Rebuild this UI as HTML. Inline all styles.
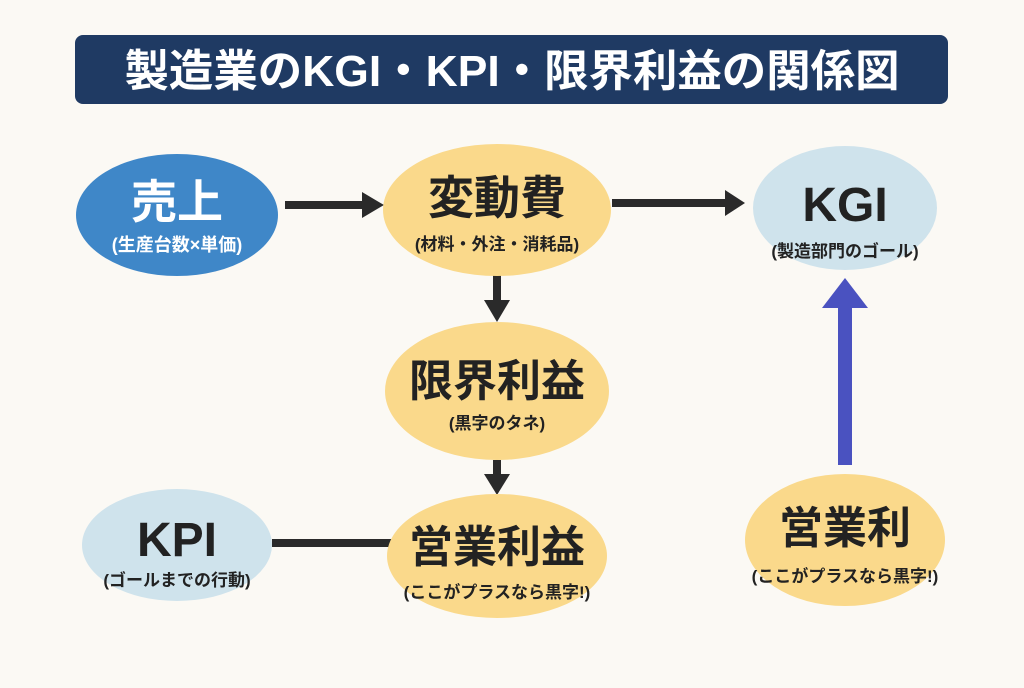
<!DOCTYPE html>
<html><head><meta charset="utf-8"><style>
body{margin:0;width:1024px;height:683px;background:#fbf9f4;overflow:hidden;font-family:"Liberation Sans","Noto Sans CJK JP",sans-serif;}
</style></head><body>
<svg width="1024" height="683" viewBox="0 0 1024 683" xmlns="http://www.w3.org/2000/svg" font-family="'Liberation Sans','Noto Sans CJK JP',sans-serif" font-weight="bold">
<rect x="75" y="35" width="873" height="69" rx="8" fill="#1f3a63"/>
<text x="512" y="86" text-anchor="middle" font-size="44" fill="#fff" textLength="775" lengthAdjust="spacingAndGlyphs">製造業のKGI・KPI・限界利益の関係図</text>
<g fill="#2a2a2a" stroke="none">
<rect x="285" y="201" width="82" height="8"/><polygon points="362,192 384,205 362,218"/>
<rect x="612" y="199" width="118" height="8"/><polygon points="725,190 745,203 725,216"/>
<rect x="493" y="275" width="8" height="30"/><polygon points="484,300 510,300 497,322"/>
<rect x="493" y="460" width="8" height="18"/><polygon points="484,474 510,474 497,495"/>
<rect x="272" y="539" width="120" height="8"/>
</g>
<rect x="838" y="305" width="14" height="160" fill="#4a52c0"/><polygon points="822,308 868,308 845,278" fill="#4a52c0"/>
<ellipse cx="177" cy="215" rx="101" ry="61" fill="#3f87c8"/>
<ellipse cx="497" cy="210" rx="114" ry="66" fill="#fad98b"/>
<ellipse cx="845" cy="208" rx="92" ry="62" fill="#cfe3ec"/>
<ellipse cx="497" cy="391" rx="112" ry="69" fill="#fad98b"/>
<ellipse cx="497" cy="556" rx="110" ry="62" fill="#fad98b"/>
<ellipse cx="177" cy="545" rx="95" ry="56" fill="#cfe3ec"/>
<ellipse cx="845" cy="540" rx="100" ry="66" fill="#fad98b"/>
<g text-anchor="middle" fill="#222">
<text x="177" y="218" font-size="46" fill="#fff">売上</text>
<text x="177" y="251" font-size="18" fill="#fff">(生産台数×単価)</text>
<text x="497" y="214" font-size="46">変動費</text>
<text x="497" y="250" font-size="17">(材料・外注・消耗品)</text>
<text x="845" y="221" font-size="48">KGI</text>
<text x="845" y="257" font-size="17">(製造部門のゴール)</text>
<text x="497" y="396" font-size="44">限界利益</text>
<text x="497" y="429" font-size="17">(黒字のタネ)</text>
<text x="497" y="562" font-size="44">営業利益</text>
<text x="497" y="598" font-size="17">(ここがプラスなら黒字!)</text>
<text x="177" y="556" font-size="48">KPI</text>
<text x="177" y="586" font-size="17">(ゴールまでの行動)</text>
<text x="845" y="543" font-size="44">営業利</text>
<text x="845" y="582" font-size="17">(ここがプラスなら黒字!)</text>
</g>
</svg>
</body></html>
